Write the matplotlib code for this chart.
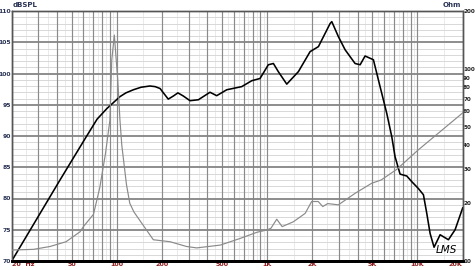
import matplotlib.pyplot as plt
import numpy as np

# frequency response (dB SPL, left axis)
spl_freq = [20, 42, 62, 74, 86, 105, 115, 129, 145, 166, 180, 194, 220, 238,
            255, 277, 307, 349, 417, 462, 539, 678, 791, 897, 1019, 1101, 1187,
            1351, 1615, 1932, 2194, 2625, 2693, 2979, 3302, 3847, 4157, 4484,
            5094, 5642, 6253, 6748, 7095, 7664, 8494, 9162, 10140, 10959,
            11540, 12140, 12900, 14150, 16070, 17800, 20000]
spl_db = [70, 83, 89.7, 92.7, 94.4, 96.3, 96.9, 97.4, 97.8, 98.0, 97.9, 97.6,
          95.9, 96.4, 96.9, 96.4, 95.65, 95.8, 97.0, 96.45, 97.4, 97.9, 98.85,
          99.2, 101.4, 101.6, 100.3, 98.3, 100.3, 103.5, 104.3, 108.0, 108.3,
          105.9, 103.8, 101.6, 101.4, 102.8, 102.2, 97.9, 93.6, 89.9, 86.7,
          83.9, 83.6, 82.7, 81.6, 80.6, 77.6, 74.4, 72.2, 74.2, 73.4, 75.0,
          78.5]

# impedance (Ohm, right axis)
imp_freq = [20, 28, 36, 46, 57, 60, 70, 77, 84, 90, 92.6, 96.3, 101.5, 105,
            108, 116, 122, 130, 142, 175, 226, 291, 340, 488, 661, 853, 995,
            1060, 1159, 1259, 1495, 1792, 1978, 2187, 2345, 2530, 2979, 3847,
            4969, 5737, 7287, 10100, 20000]
imp_ohm = [11.4, 11.5, 11.9, 12.6, 14.2, 15.1, 17.5, 24, 36, 54, 111, 150,
           87.5, 54, 40, 25, 20, 18, 16.3, 12.9, 12.6, 11.9, 11.7, 12.1, 13.1,
           14.1, 14.5, 14.8, 16.5, 15.1, 16.0, 17.7, 20.4, 20.4, 19.2, 19.9,
           19.6, 22.5, 25.4, 26.4, 30.0, 37.8, 59]

x_ticks = [20, 50, 100, 200, 500, 1000, 2000, 5000, 10000, 20000]
x_labels = ["20  Hz", "50", "100", "200", "500", "1K", "2K", "5K", "10K", "20K"]
db_ticks = [70, 75, 80, 85, 90, 95, 100, 105, 110]
ohm_ticks = [10, 20, 30, 40, 50, 60, 70, 80, 90, 100, 200]

W, H = 475, 270
fig = plt.figure(figsize=(W / 100, H / 100), dpi=100)
ax = fig.add_axes([11.7 / W, 9 / H, 451 / W, 250 / H])
ax.set_xscale("log")
ax.set_xlim(20, 20000)
ax.set_ylim(70, 110)

# grid
for dec in [10, 100, 1000, 10000]:
    for m in range(1, 10):
        f = dec * m
        if 20 <= f <= 20000:
            ax.axvline(f, color="#8a8a8a", lw=0.85, zorder=1)
        fh = dec * (m + 0.5)
        if 20 < fh < 20000:
            ax.axvline(fh, color="#e6e6e6", lw=0.6, zorder=0)
for v in range(70, 111):
    if v % 5 == 0:
        ax.axhline(v, color="#858585", lw=1.3, zorder=1)
    else:
        ax.axhline(v, color="#d8d8d8", lw=0.7, zorder=0)

ax2 = ax.twinx()
ax2.set_yscale("log")
ax2.set_ylim(10, 200)

ax.plot(spl_freq, spl_db, color="black", lw=1.15, zorder=5)
ax2.plot(imp_freq, imp_ohm, color="#8a8a8a", lw=0.85, zorder=4)

ax.set_xticks(x_ticks)
ax.set_xticklabels(x_labels)
ax.xaxis.set_minor_locator(plt.NullLocator())
ax.set_yticks(db_ticks)
ax.set_yticklabels([str(v) for v in db_ticks])
ax2.set_yticks(ohm_ticks)
ax2.set_yticklabels([str(v) for v in ohm_ticks])
ax2.yaxis.set_minor_locator(plt.NullLocator())

ax.tick_params(axis="x", length=0, pad=0.5, labelsize=4.6, labelcolor="#8b1a1a")
ax.tick_params(axis="y", length=0, pad=0.3, labelsize=4.4, labelcolor="#2a3355")
ax2.tick_params(axis="y", length=0, pad=0.3, labelsize=4.1, labelcolor="#222222")
for lab in ax.get_xticklabels() + ax.get_yticklabels() + ax2.get_yticklabels():
    lab.set_fontweight("bold")
ax.get_xticklabels()[0].set_horizontalalignment("left")
ax.get_xticklabels()[-1].set_horizontalalignment("right")

for a in (ax, ax2):
    for s in a.spines.values():
        s.set_color("#555555")
        s.set_linewidth(1.0)
    a.spines["bottom"].set_color("black")
    a.spines["bottom"].set_linewidth(2.0)

fig.text(13 / W, 1 - 5 / H, "dBSPL", fontsize=5, fontweight="bold",
         color="#2a3355", va="center", ha="left")
fig.text(452 / W, 1 - 5 / H, "Ohm", fontsize=5, fontweight="bold",
         color="#2a3355", va="center", ha="center")
fig.text(446 / W, 1 - 250 / H, "LMS", fontsize=7.5, style="italic",
         color="black", va="center", ha="center")

fig.savefig("out.png", dpi=100)
